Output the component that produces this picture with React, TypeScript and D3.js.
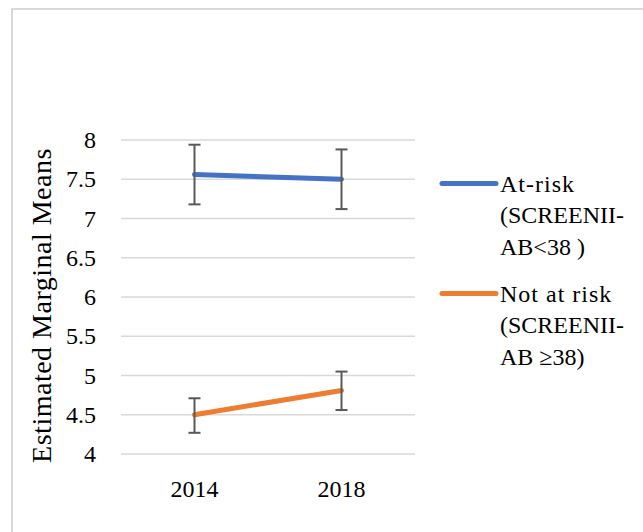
import React from "react";
import * as d3 from "d3";

const categories = ["2014", "2018"];
const yTicks = [4, 4.5, 5, 5.5, 6, 6.5, 7, 7.5, 8];

const seriesNames = ["At-risk", "Not at risk"];
const legendLines = [
  ["At-risk", "(SCREENII-", "AB<38 )"],
  ["Not at risk", "(SCREENII-", "AB \u226538)"],
];
const seriesColors = ["#4472C4", "#ED7D31"];

const atRiskMean = [7.56, 7.5];
const atRiskLow = [7.18, 7.12];
const atRiskHigh = [7.94, 7.88];

const notAtRiskMean = [4.5, 4.81];
const notAtRiskLow = [4.27, 4.56];
const notAtRiskHigh = [4.71, 5.05];

const FONT = "'Liberation Serif', 'Times New Roman', serif";
const ts = { fontFamily: FONT };
const FS = 24;

export default function App() {
  const x = d3.scalePoint<string>().domain(categories).range([121, 415]).padding(0.5);
  const y = d3.scaleLinear().domain([4, 8]).range([454, 140]);

  const series = [
    { mean: atRiskMean, low: atRiskLow, high: atRiskHigh },
    { mean: notAtRiskMean, low: notAtRiskLow, high: notAtRiskHigh },
  ];

  const line = d3
    .line<number>()
    .x((_, i) => x(categories[i]) as number)
    .y((d) => y(d));

  return (
    <svg
      width={643}
      height={532}
      style={{ position: "absolute", left: 0, top: 0, background: "#fff", fontFamily: FONT }}
    >
      <rect x={0} y={0} width={643} height={532} fill="#fff" />
      <rect x={12} y={9} width={660} height={560} fill="none" stroke="#d9d9d9" strokeWidth={2} />

      {yTicks.map((t) => (
        <g key={t}>
          <line x1={121} x2={415} y1={y(t)} y2={y(t)} stroke="#d9d9d9" strokeWidth={1.5} />
          <text style={ts} x={96} y={y(t) + 8} textAnchor="end" fontSize={FS} fill="#000">
            {String(t)}
          </text>
        </g>
      ))}

      {categories.map((c) => (
        <text style={ts} key={c} x={x(c)} y={496.5} textAnchor="middle" fontSize={FS} fill="#000">
          {c}
        </text>
      ))}

      <text
        style={{ ...ts, letterSpacing: "0.5px" }}
        transform={`translate(51,305.5) rotate(-90)`}
        textAnchor="middle"
        fontSize={28}
        fill="#000"
      >
        Estimated Marginal Means
      </text>

      {series.map((s, si) => (
        <g key={seriesNames[si]}>
          <path
            d={line(s.mean) as string}
            fill="none"
            stroke={seriesColors[si]}
            strokeWidth={5}
            strokeLinecap="round"
          />
          {categories.map((c, i) => {
            const cx = x(c) as number;
            return (
              <g key={c} stroke="#595959" strokeWidth={2}>
                <line x1={cx} x2={cx} y1={y(s.high[i])} y2={y(s.low[i])} />
                <line x1={cx - 6} x2={cx + 6} y1={y(s.high[i])} y2={y(s.high[i])} />
                <line x1={cx - 6} x2={cx + 6} y1={y(s.low[i])} y2={y(s.low[i])} />
              </g>
            );
          })}
        </g>
      ))}

      {legendLines.map((lines, li) => {
        const base = li === 0 ? 191.5 : 301.5;
        return (
          <g key={li}>
            <line
              x1={442}
              x2={496}
              y1={base - 8}
              y2={base - 8}
              stroke={seriesColors[li]}
              strokeWidth={5}
              strokeLinecap="round"
            />
            {lines.map((t, k) => (
              <text
                style={{ ...ts, letterSpacing: k === 0 ? "1px" : "0px" }}
                key={k}
                x={500}
                y={base + k * 31.5}
                fontSize={FS}
                fill="#000"
              >
                {t}
              </text>
            ))}
          </g>
        );
      })}
    </svg>
  );
}
